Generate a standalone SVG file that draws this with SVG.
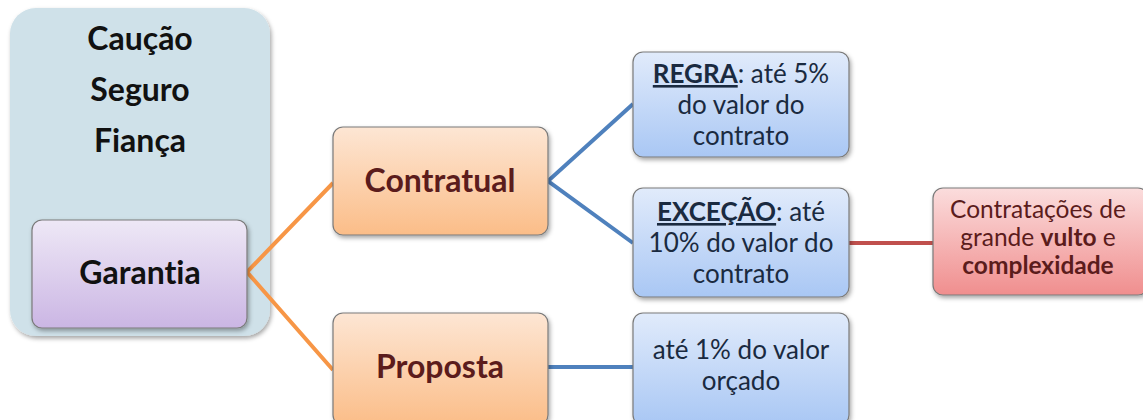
<svg xmlns="http://www.w3.org/2000/svg" width="1143" height="420" viewBox="0 0 1143 420">
<defs>
<linearGradient id="gPurple" x1="0" y1="0" x2="0" y2="1"><stop offset="0" stop-color="#eee8f6"/><stop offset="1" stop-color="#cbb6e4"/></linearGradient>
<linearGradient id="gOrange" x1="0" y1="0" x2="0" y2="1"><stop offset="0" stop-color="#fde6d4"/><stop offset="1" stop-color="#fbbd88"/></linearGradient>
<linearGradient id="gBlue" x1="0" y1="0" x2="0" y2="1"><stop offset="0" stop-color="#e1ebfb"/><stop offset="1" stop-color="#a9c7f4"/></linearGradient>
<linearGradient id="gRed" x1="0" y1="0" x2="0" y2="1"><stop offset="0" stop-color="#fbdddd"/><stop offset="1" stop-color="#f08e8e"/></linearGradient>
<filter id="sh" x="-10%" y="-10%" width="125%" height="130%"><feDropShadow dx="1.5" dy="2.5" stdDeviation="2" flood-color="#000" flood-opacity="0.35"/></filter>
</defs>
<style>
.box{stroke:#7a7a7a;stroke-width:1.2;filter:url(#sh)}
.t{font-family:Lato,"Open Sans","Liberation Sans",sans-serif;text-anchor:middle;font-variant-ligatures:none;font-feature-settings:"liga" 0}
.b{font-weight:bold}
.blk{fill:#111}
.dr{fill:#5b1c1c;font-weight:bold;font-size:32px}
.nv{fill:#1a2a40;font-size:26px}
.rd{fill:#5b1c1c;font-size:24.5px}
.con{fill:none;stroke-width:4}
</style>
<g id="grupo-garantias">
<rect x="10" y="8" width="260" height="328" rx="26" fill="#cfe1e9" filter="url(#sh)"/>
<text class="t b blk" x="140" y="50" font-size="32">Caução</text>
<text class="t b blk" x="140" y="101" font-size="32">Seguro</text>
<text class="t b blk" x="140" y="152" font-size="32">Fiança</text>
</g>
<g id="connectors">
<polyline class="con" stroke="#f79646" points="333,183 247,272 333,370"/>
<polyline class="con" stroke="#4f81bd" points="633,104 548,181 633,243"/>
<line class="con" stroke="#4f81bd" x1="548" y1="367" x2="633" y2="367"/>
<line class="con" stroke="#c0504d" x1="849" y1="243" x2="933" y2="243"/>
</g>
<g id="garantia">
<rect class="box" x="32" y="220" width="215" height="108" rx="10" fill="url(#gPurple)"/>
<text class="t b blk" x="140" y="284" font-size="32">Garantia</text>
</g>
<g id="contratual">
<rect class="box" x="333" y="127" width="215" height="108" rx="10" fill="url(#gOrange)"/>
<text class="t dr" x="440" y="192">Contratual</text>
</g>
<g id="proposta">
<rect class="box" x="333" y="313" width="215" height="112" rx="10" fill="url(#gOrange)"/>
<text class="t dr" x="440" y="378">Proposta</text>
</g>
<g id="regra">
<rect class="box" x="633" y="52" width="216" height="105" rx="10" fill="url(#gBlue)"/>
<text class="t nv" x="741" y="83"><tspan font-weight="bold" text-decoration="underline">REGRA</tspan>: até 5%</text>
<text class="t nv" x="741" y="114">do valor do</text>
<text class="t nv" x="741" y="145">contrato</text>
</g>
<g id="excecao">
<rect class="box" x="633" y="188" width="216" height="109" rx="10" fill="url(#gBlue)"/>
<text class="t nv" x="741" y="221"><tspan font-weight="bold" text-decoration="underline">EXCEÇÃO</tspan>: até</text>
<text class="t nv" x="741" y="252">10% do valor do</text>
<text class="t nv" x="741" y="283">contrato</text>
</g>
<g id="proposta-valor">
<rect class="box" x="633" y="313" width="216" height="112" rx="10" fill="url(#gBlue)"/>
<text class="t nv" x="741" y="359">até 1% do valor</text>
<text class="t nv" x="741" y="390">orçado</text>
</g>
<g id="grande-vulto">
<rect class="box" x="933" y="188" width="215" height="107" rx="10" fill="url(#gRed)"/>
<text class="t rd" x="1038" y="218">Contratações de</text>
<text class="t rd" x="1038" y="246">grande <tspan font-weight="bold">vulto</tspan> e</text>
<text class="t rd" x="1038" y="274" font-weight="bold">complexidade</text>
</g>
</svg>
